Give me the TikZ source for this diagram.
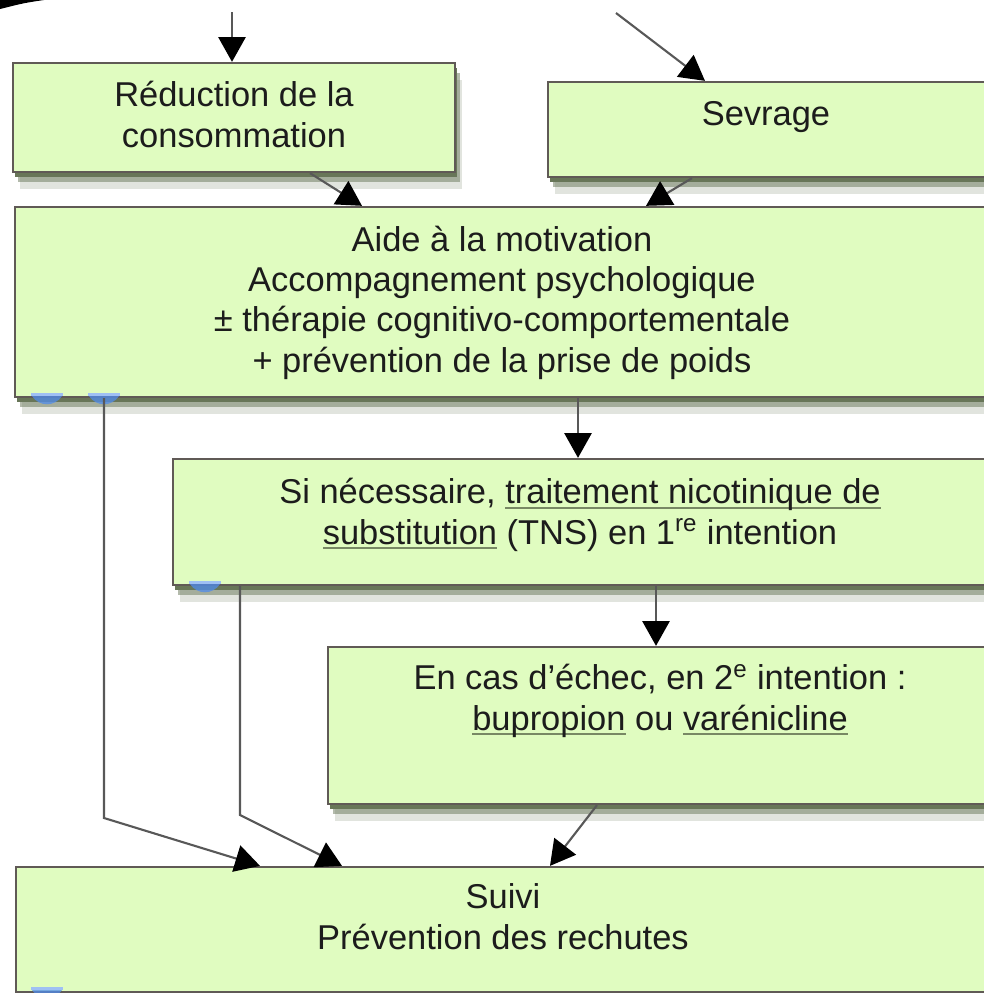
\documentclass[tikz,border=0pt]{standalone}
\usepackage{fontspec}
\setmainfont{Liberation Sans}
\usepackage{tikz}
\usepackage{xcolor}
\usetikzlibrary{arrows.meta, shadows}
\definecolor{boxgreen}{RGB}{224, 252, 192}
\definecolor{boxedge}{RGB}{96, 90, 86}
\definecolor{shadowgreen}{RGB}{104, 118, 88}
\definecolor{linegray}{RGB}{88, 88, 88}
\definecolor{txtdark}{RGB}{28, 28, 28}
\definecolor{ulgray}{RGB}{120, 136, 100}
\definecolor{markblue}{RGB}{80, 140, 235}
\newsavebox{\ulbox}
\newcommand{\ulink}[1]{\sbox{\ulbox}{#1}\rlap{\color{ulgray}\rule[-3.6pt]{\wd\ulbox}{1.5pt}}\usebox{\ulbox}}
\newcommand{\bluemark}[2]{%
    \fill[markblue!55] (#1-16,#2-4) rectangle (#1+16,#2-1);
    \fill[markblue, opacity=0.75] (#1-15,#2-1) .. controls (#1-8,#2+10) and (#1+8,#2+10) .. (#1+15,#2-1) -- cycle;}
\tikzset{
    carebox/.style={rectangle, draw=boxedge, line width=1.6pt, fill=boxgreen, inner sep=0pt,
        drop shadow={shadow xshift=0.06cm, shadow yshift=-0.12cm, fill=shadowgreen, opacity=1},
        drop shadow={shadow xshift=0.12cm, shadow yshift=-0.26cm, fill=shadowgreen, opacity=0.5},
        drop shadow={shadow xshift=0.18cm, shadow yshift=-0.42cm, fill=shadowgreen, opacity=0.2}},
    boxtext/.style={align=center, inner sep=0pt, anchor=base, text=txtdark,
        font=\fontsize{24.5}{28.5}\selectfont},
    arr/.style={draw=linegray, line width=1.5pt, -{Triangle[length=0.62cm, width=0.68cm, color=black]}}
}

\begin{document}
\begin{tikzpicture}[x=0.025cm, y=-0.025cm]
    \useasboundingbox (0,0) rectangle (984,993);
    \clip (0,0) rectangle (984,993);
    \fill[black] (0,0) -- (44,0) .. controls (24,3) .. (0,9) -- cycle;

    % boxes
    \node[carebox, minimum width=11.05cm, minimum height=2.725cm] (reduc) at (234,117.5) {};
    \node[carebox, minimum width=11.3cm, minimum height=2.375cm] (sevrage) at (774,129.5) {};
    \node[carebox, minimum width=24.625cm, minimum height=4.75cm] (aide) at (507.5,302) {};
    \node[carebox, minimum width=20.675cm, minimum height=3.15cm] (si) at (586.5,522) {};
    \node[carebox, minimum width=16.8cm, minimum height=3.925cm] (encas) at (664,725.5) {};
    \node[carebox, minimum width=24.6cm, minimum height=3.125cm] (suivi) at (508,929.5) {};

    \bluemark{47}{397}
    \bluemark{104}{397}
    \bluemark{205}{585}
    \bluemark{47}{991}

    % texts (placed by the baseline of their last line)
    \node[boxtext] (reducTxt) at (234,147) {Réduction de la\\consommation};
    \node[boxtext] (sevTxt) at (766,125) {Sevrage};
    \node[boxtext] (aideTxt) at (502,372) {Aide à la motivation\\Accompagnement psychologique\\± thérapie cognitivo-comportementale\\+ prévention de la prise de poids};
    \node[boxtext] (siTxt) at (580,544) {Si nécessaire, \ulink{traitement nicotinique de}\\\ulink{substitution} (TNS) en 1\textsuperscript{re} intention};
    \node[boxtext] (encasTxt) at (660,730) {En cas d'échec, en 2\textsuperscript{e} intention :\\\ulink{bupropion} ou \ulink{varénicline}};
    \node[boxtext] (suiviTxt) at (503,949) {Suivi\\Prévention des rechutes};

    % connectors
    \coordinate (topin) at (232,12);
    \coordinate (sevin) at (616,13);
    \draw[arr] (topin) -- (reduc.north -| topin);
    \draw[arr] (sevin) -- (sevrage.north -| 705,0);
    \draw[arr] (reduc.south -| 310,0) -- (aide.north -| 362,0);
    \draw[arr] (sevrage.south -| 692,0) -- (aide.north -| 646,0);
    \draw[arr] (aide.south -| 578,0) -- (si.north -| 578,0);
    \draw[arr] (si.south -| 656,0) -- (encas.north -| 656,0);
    \draw[arr] (encas.south -| 597,0) -- (suivi.north -| 550,0);
    \draw[arr] (aide.south -| 104,0) -- (104,818) -- (suivi.north -| 260,0);
    \draw[arr] (si.south -| 240,0) -- (240,815) -- (suivi.north -| 342,0);
\end{tikzpicture}
\end{document}
